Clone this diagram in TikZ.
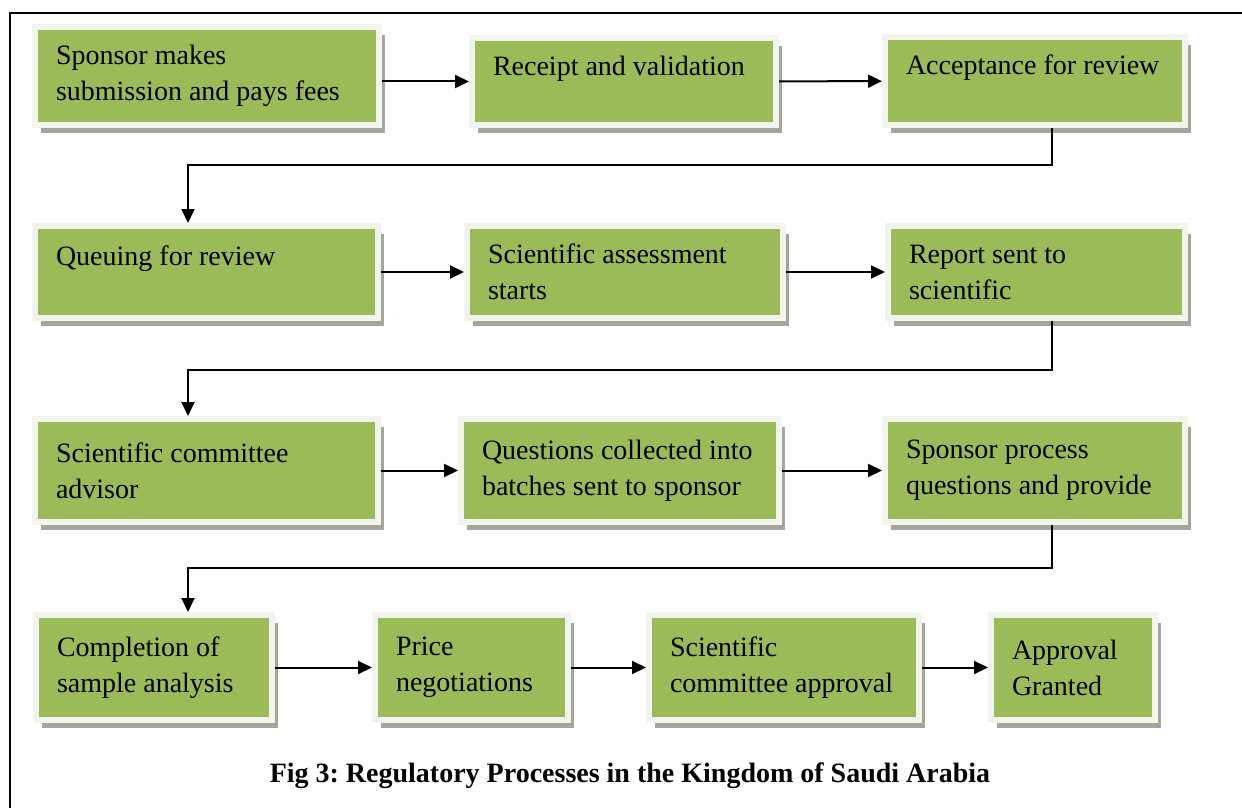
\documentclass[tikz,border=0pt]{standalone}
\usepackage{fontspec}
\setmainfont{Liberation Serif}
\usetikzlibrary{arrows.meta, positioning, shadows}
\definecolor{boxgreen}{HTML}{9BBB59}
\definecolor{boxrim}{HTML}{F2F5EE}
\definecolor{shadowgray}{HTML}{A3A79A}

\begin{document}
\begin{tikzpicture}[x=0.5pt, y=-0.5pt,
    stage/.style={rectangle, fill=boxgreen, draw=boxrim, line width=3pt, inner xsep=10.5pt, align=flush left, font=\fontsize{14}{18}\selectfont, execute at begin node={\spaceskip=0pt\xspaceskip=0pt\hyphenpenalty=10000}, drop shadow={shadow xshift=3pt, shadow yshift=-4pt, fill=shadowgray, opacity=1}},
    single/.style={text depth=16pt},
    flow/.style={-{Triangle[length=7pt, width=6.5pt]}, line width=1pt}
]
\useasboundingbox (0,0) rectangle (1242,808);

% Outer frame
\draw[line width=1pt] (1242,13) -- (10,13) -- (10,808);

% Row 1
\node[stage, minimum width=172pt, minimum height=49pt, text width=151pt] (submit) at (207,76) {Sponsor makes\\ submission and pays fees};
\node[stage, single, minimum width=152pt, minimum height=43.5pt, text width=131pt] (receipt) at (624,81.5) {Receipt and validation};
\node[stage, single, minimum width=150pt, minimum height=44pt, text width=129pt] (accept) at (1035,81) {Acceptance for review};

% Row 2
\node[stage, single, minimum width=171.5pt, minimum height=46pt, text width=150.5pt] (queue) at (206.5,272) {Queuing for review};
\node[stage, minimum width=158pt, minimum height=46pt, text width=137pt] (assess) at (625,272) {Scientific assessment\\ starts};
\node[stage, minimum width=148.5pt, minimum height=46pt, text width=127.5pt] (report) at (1036.5,272) {Report sent to\\ scientific};

% Row 3
\node[stage, minimum width=171.5pt, minimum height=51.5pt, text width=150.5pt] (advisor) at (206.5,470.5) {Scientific committee\\ advisor};
\node[stage, minimum width=159pt, minimum height=51.5pt, text width=138pt] (batches) at (620,470.5) {Questions collected into\\ batches sent to sponsor};
\node[stage, minimum width=150pt, minimum height=51.5pt, text width=129pt] (answers) at (1035,470.5) {Sponsor process\\ questions and provide};

% Row 4
\node[stage, minimum width=118pt, minimum height=52.5pt, text width=97pt] (sample) at (154,667.5) {Completion of\\ sample analysis};
\node[stage, minimum width=96.5pt, minimum height=52.5pt, text width=75.5pt] (price) at (471.5,667.5) {Price\\ negotiations};
\node[stage, minimum width=135pt, minimum height=52.5pt, text width=114pt] (approval) at (784,667.5) {Scientific\\ committee approval};
\node[stage, minimum width=82pt, minimum height=52.5pt, text width=61pt] (granted) at (1073,667.5) {Approval\\ Granted};

% Caption
\node[font=\bfseries\fontsize{14}{18}\selectfont, anchor=base] (caption) at (630,782) {\frenchspacing Fig 3: Regulatory Processes in the Kingdom of Saudi Arabia};

% Turn points between rows
\coordinate (turnA) at (1052,165);
\coordinate (turnB) at (188,165);
\coordinate (turnC) at (1052,370);
\coordinate (turnD) at (188,370);
\coordinate (turnE) at (1052,568);
\coordinate (turnF) at (188,568);

% Straight arrows
\draw[flow] (submit.east |- receipt.west) -- (receipt.west);
\draw[flow] (receipt) -- (accept);
\draw[flow] (queue) -- (assess);
\draw[flow] (assess) -- (report);
\draw[flow] (advisor) -- (batches);
\draw[flow] (batches) -- (answers);
\draw[flow] (sample) -- (price);
\draw[flow] (price) -- (approval);
\draw[flow] (approval) -- (granted);

% Elbow arrows
\draw[flow] (accept.south -| turnA) -- (turnA) -- (turnB) -- (queue.north -| turnB);
\draw[flow] (report.south -| turnC) -- (turnC) -- (turnD) -- (advisor.north -| turnD);
\draw[flow] (answers.south -| turnE) -- (turnE) -- (turnF) -- (sample.north -| turnF);

\end{tikzpicture}
\end{document}
